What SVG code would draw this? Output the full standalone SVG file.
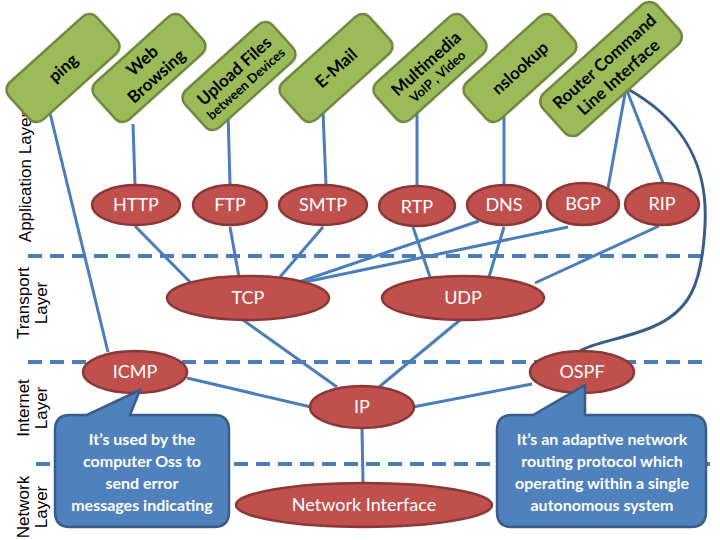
<svg xmlns="http://www.w3.org/2000/svg" width="720" height="540" viewBox="0 0 720 540">
<style>
.app rect{fill:#9BBB59;stroke:#71893F;stroke-width:2.5}
.app text{font-family:Lato,"Open Sans","Liberation Sans",sans-serif;font-weight:bold;fill:#000;text-anchor:middle}
.t17{font-size:17px}
.t13{font-size:13px}
.proto ellipse{fill:#C0504D;stroke:#8C3836;stroke-width:2.5}
.proto text{font-family:Lato,"Open Sans","Liberation Sans",sans-serif;font-size:18px;fill:#fff;text-anchor:middle}
.conn line,.conn path{stroke:#4A7EBB;stroke-width:3;fill:none}
.conn .dark{stroke:#385D8A}
.sep line{stroke:#4A7EBB;stroke-width:4;stroke-dasharray:14 8}
.layer{font-family:"Liberation Sans",Arial,sans-serif;font-size:17px;fill:#000;text-anchor:middle}
.callout path{fill:#4F81BD;stroke:#385D8A;stroke-width:2.5}
.callout text{font-family:Lato,"Open Sans","Liberation Sans",sans-serif;font-size:16px;font-weight:bold;fill:#fff;text-anchor:middle}
</style>

<g id="separators" class="sep">
<line x1="28" y1="256" x2="706" y2="256"/>
<line x1="28" y1="362" x2="706" y2="362"/>
<line x1="36" y1="464" x2="712" y2="464"/>
</g>

<g id="layer-labels" class="layer">
<text transform="translate(31,177) rotate(-90)">Application Layer</text>
<text transform="translate(29,303) rotate(-90)">Transport</text>
<text transform="translate(47,303) rotate(-90)">Layer</text>
<text transform="translate(29,408) rotate(-90)">Internet</text>
<text transform="translate(47,408) rotate(-90)">Layer</text>
<text transform="translate(29,507) rotate(-90)">Network</text>
<text transform="translate(47,507) rotate(-90)">Layer</text>
</g>

<g id="connectors" class="conn">
<line x1="50" y1="113" x2="108" y2="352"/>
<line x1="133" y1="124" x2="135" y2="185"/>
<line x1="228" y1="112" x2="230" y2="185"/>
<line x1="323" y1="112" x2="326" y2="185"/>
<line x1="417" y1="112" x2="417" y2="185"/>
<line x1="504" y1="113" x2="504" y2="184"/>
<line x1="626" y1="88" x2="608" y2="188"/>
<line x1="626" y1="88" x2="663" y2="183"/>
<path class="dark" d="M626,88 C688,122 708,170 705,225 C702,285 690,312 650,328 C620,340 595,342 580,351"/>
<line x1="135" y1="226" x2="190" y2="282"/>
<line x1="230" y1="227" x2="239" y2="277"/>
<line x1="323" y1="227" x2="280" y2="277"/>
<line x1="479" y1="221" x2="296" y2="283"/>
<line x1="568" y1="227" x2="305" y2="282"/>
<line x1="413" y1="227" x2="430" y2="277"/>
<line x1="504" y1="227" x2="489" y2="277"/>
<line x1="659" y1="226" x2="535" y2="283"/>
<line x1="243" y1="320" x2="337" y2="387"/>
<line x1="460" y1="320" x2="379" y2="387"/>
<line x1="187" y1="378" x2="311" y2="407"/>
<line x1="532" y1="384" x2="413" y2="407"/>
<line x1="362" y1="428" x2="363" y2="483"/>
</g>

<g id="app-ping" class="app" transform="translate(63,68) rotate(-42)">
<rect x="-59" y="-25" width="118" height="50" rx="10"/>
<text class="t17" y="6">ping</text>
</g>
<g id="app-web" class="app" transform="translate(149,68) rotate(-42)">
<rect x="-59" y="-25" width="118" height="50" rx="10"/>
<text class="t17" y="-4">Web</text>
<text class="t17" y="17">Browsing</text>
</g>
<g id="app-upload" class="app" transform="translate(239,76) rotate(-42)">
<rect x="-59" y="-25" width="118" height="50" rx="10"/>
<text class="t17" y="-1">Upload Files</text>
<text class="t13" y="15">between Devices</text>
</g>
<g id="app-email" class="app" transform="translate(336,68) rotate(-42)">
<rect x="-59" y="-25" width="118" height="50" rx="10"/>
<text class="t17" y="6">E-Mail</text>
</g>
<g id="app-multimedia" class="app" transform="translate(430,68) rotate(-42)">
<rect x="-59" y="-25" width="118" height="50" rx="10"/>
<text class="t17" y="0">Multimedia</text>
<text class="t13" y="16">VoIP , Video</text>
</g>
<g id="app-nslookup" class="app" transform="translate(520,68) rotate(-42)">
<rect x="-59" y="-25" width="118" height="50" rx="10"/>
<text class="t17" y="6">nslookup</text>
</g>
<g id="app-router" class="app" transform="translate(611,69) rotate(-42)">
<rect x="-77" y="-27" width="154" height="54" rx="11"/>
<text class="t17" y="-4">Router Command</text>
<text class="t17" y="17">Line Interface</text>
</g>

<g id="proto-http" class="proto"><ellipse cx="136" cy="205" rx="44" ry="20"/><text x="136" y="211">HTTP</text></g>
<g id="proto-ftp" class="proto"><ellipse cx="230" cy="205" rx="37" ry="20"/><text x="230" y="211">FTP</text></g>
<g id="proto-smtp" class="proto"><ellipse cx="323" cy="205" rx="44" ry="20"/><text x="323" y="211">SMTP</text></g>
<g id="proto-rtp" class="proto"><ellipse cx="417" cy="206" rx="38" ry="20"/><text x="417" y="213">RTP</text></g>
<g id="proto-dns" class="proto"><ellipse cx="504" cy="205" rx="37" ry="20"/><text x="504" y="211">DNS</text></g>
<g id="proto-bgp" class="proto"><ellipse cx="583" cy="204" rx="36" ry="21"/><text x="583" y="210">BGP</text></g>
<g id="proto-rip" class="proto"><ellipse cx="662" cy="204" rx="37" ry="21"/><text x="662" y="210">RIP</text></g>
<g id="proto-tcp" class="proto"><ellipse cx="248" cy="298" rx="81" ry="22"/><text x="248" y="304">TCP</text></g>
<g id="proto-udp" class="proto"><ellipse cx="463" cy="298" rx="81" ry="22"/><text x="463" y="304">UDP</text></g>
<g id="proto-icmp" class="proto"><ellipse cx="135" cy="372" rx="52" ry="21"/><text x="135" y="378">ICMP</text></g>
<g id="proto-ospf" class="proto"><ellipse cx="582" cy="372" rx="52" ry="21"/><text x="582" y="378">OSPF</text></g>
<g id="proto-ip" class="proto"><ellipse cx="362" cy="407" rx="52" ry="21"/><text x="362" y="413">IP</text></g>
<g id="proto-netif" class="proto"><ellipse cx="364" cy="505" rx="128" ry="22"/><text x="364" y="511">Network Interface</text></g>

<g id="callout-icmp" class="callout">
<path d="M70,415 L87,415 L140,390 L130,415 L214,415 Q229,415 229,430 L229,512 Q229,527 214,527 L70,527 Q55,527 55,512 L55,430 Q55,415 70,415 Z"/>
<text x="142" y="445">It’s used by the</text>
<text x="142" y="467">computer Oss to</text>
<text x="142" y="489">send error</text>
<text x="142" y="511">messages indicating</text>
</g>
<g id="callout-ospf" class="callout">
<path d="M512,415 L533,415 L585,385 L585,415 L691,415 Q706,415 706,430 L706,512 Q706,527 691,527 L512,527 Q497,527 497,512 L497,430 Q497,415 512,415 Z"/>
<text x="602" y="445">It’s an adaptive network</text>
<text x="602" y="467">routing protocol which</text>
<text x="602" y="489">operating within a single</text>
<text x="602" y="511">autonomous system</text>
</g>
</svg>
